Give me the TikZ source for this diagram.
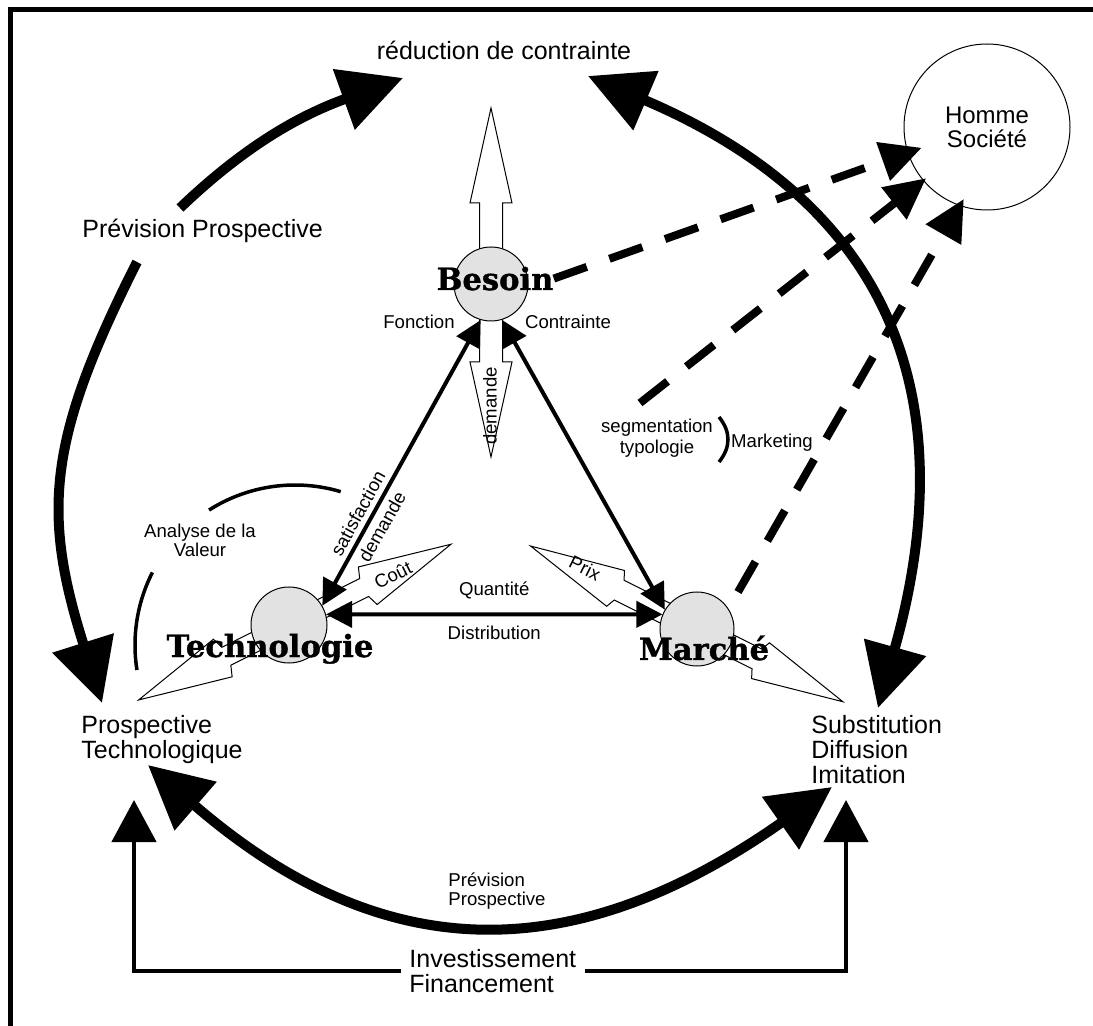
\documentclass[tikz,border=0pt]{standalone}
\usepackage{fontspec}
\setmainfont{Liberation Sans}
\newfontfamily\slabfont{DejaVu Serif}[BoldFeatures={FakeBold=1.2}]
\usetikzlibrary{arrows.meta}
\definecolor{polegray}{HTML}{E2E2E2}
\tikzset{
  flow/.style={line width=5pt, >={Triangle[length=31.5pt,width=31pt]}},
  link/.style={line width=2pt, >={Triangle[length=13pt,width=13pt]}, <->},
  impact/.style={line width=4pt, dash pattern=on 17.5pt off 12pt, >={Triangle[length=20.5pt,width=19.5pt]}, ->},
  fund/.style={line width=2.25pt, >={Triangle[length=21pt,width=22pt]}, ->},
  pole/.style={circle, draw, line width=0.5pt, fill=polegray, inner sep=0pt, minimum size=#1},
  hollow/.style={draw, fill=white, line width=0.5pt},
  lbl/.style={font=\fontsize{9.3}{9.5}\selectfont, inner sep=0pt},
  txt/.style={font=\fontsize{12.5}{12.5}\selectfont, inner sep=0pt},
  bigword/.style={font=\fontsize{15.3}{15.3}\slabfont\bfseries, inner sep=0pt}
}
\begin{document}
\begin{tikzpicture}[x=0.5pt, y=0.5pt]
  \useasboundingbox (0,0) rectangle (1093,-1026);
  % cadre
  \draw[line width=2.25pt] (1093,-9.5) -- (10.5,-9.5) -- (10.5,-1026);

  % grands cercles de prevision
  \coordinate (pp1) at (180,-208);
  \coordinate (rc1) at (403,-78);
  \coordinate (pp2) at (137,-262);
  \coordinate (pt1) at (102,-703);
  \coordinate (rc2) at (588,-76);
  \coordinate (sd1) at (878,-708);
  \coordinate (pt2) at (148,-765);
  \coordinate (sd2) at (832,-787);
  \draw[flow, ->] (pp1) .. controls (252,-139) and (309,-112) .. (rc1);
  \draw[flow, ->] (pp2) .. controls (47,-440) and (42,-513) .. (pt1);
  \draw[flow, <->] (rc2) .. controls (910,-213) and (959,-420) .. (sd1);
  \draw[flow, <->] (pt2) .. controls (385,-970) and (576,-967) .. (sd2);

  % analyse de la valeur
  \coordinate (av) at (295,-645);
  \draw[line width=1.75pt] ([shift={(122.5:160)}]av) arc[start angle=122.5, end angle=73.4, radius=160];
  \draw[line width=1.75pt] ([shift={(153:160)}]av) arc[start angle=153, end angle=189, radius=160];
  \node[lbl, align=center, anchor=north] (analyse) at (200,-524) {Analyse de la\\Valeur};

  % poles
  \coordinate (cbes) at (491,-284);
  \coordinate (ctech) at (289,-625);
  \coordinate (cmar) at (697,-629);
  \begin{scope}[shift={(cbes)}]
    \draw[hollow] (-11.5,0) -- (-11.5,81) -- (-21,81) -- (0,176) -- (21,81) -- (11.5,81) -- (11.5,0) -- cycle;
    \draw[hollow] (-11.5,0) -- (-11.5,-78) -- (-21,-78) -- (0,-173) -- (21,-78) -- (11.5,-78) -- (11.5,0) -- cycle;
  \end{scope}
  \begin{scope}[shift={(ctech)}, rotate=26.5]
    \draw[hollow] (181,0) -- (88,21) -- (84,10) -- (-70,10) -- (-74,21) -- (-168,0) -- (-74,-21) -- (-70,-10) -- (84,-10) -- (88,-21) -- cycle;
  \end{scope}
  \begin{scope}[shift={(cmar)}, rotate=-26.5]
    \draw[hollow] (163,0) -- (71,20) -- (67,11) -- (-87,11) -- (-91,20) -- (-186,0) -- (-91,-20) -- (-87,-11) -- (67,-11) -- (71,-20) -- cycle;
  \end{scope}
  \node[pole=37pt] (besoin) at (cbes) {};
  \node[pole=38pt] (tech) at (ctech) {};
  \node[pole=37pt] (marche) at (cmar) {};
  \node[lbl, rotate=26.5] (cout) at (393,-575) {Coût};
  \node[lbl, rotate=-26.5] (prix) at (585,-568) {Prix};
  \node[lbl, rotate=90] (dem) at (490,-406) {demande};

  \draw[link] (tech.30) -- (besoin.254)
    node[lbl, pos=0.3, sloped, above=2.5pt] {satisfaction}
    node[lbl, pos=0.3, sloped, below=2.5pt] {demande};
  \draw[link] (marche.149) -- (besoin.287);
  \draw[link] (tech.16) -- (marche.157)
    node[lbl, midway, above=6.5pt] {Quantité}
    node[lbl, midway, below=5pt] {Distribution};
  \node[lbl, anchor=base] (fonction) at (419,-329) {Fonction};
  \node[lbl, anchor=base] (contrainte) at (568,-329) {Contrainte};

  \node[bigword, anchor=base] (besointxt) at (495,-290) {Besoin};
  \node[bigword, anchor=base] (techtxt) at (270,-657) {Technologie};
  \node[bigword, anchor=base] (marchetxt) at (704,-660) {Marché};

  % homme societe
  \node[circle, draw, line width=0.5pt, minimum size=83pt, inner sep=0pt, align=center, font=\fontsize{12}{12}\selectfont] (hs) at (987,-127) {Homme\\Société};
  \coordinate (seg) at (640,-403);
  \coordinate (mk) at (738,-592);
  \draw[impact, shorten >=-7.5pt] (besointxt.east) -- (hs.198);
  \draw[impact, shorten >=-2pt] (seg) -- (hs.220);
  \draw[impact, shorten >=-4pt] (mk) -- (hs.251);

  % marketing
  \node[lbl, align=center, anchor=north] (segm) at (657,-419) {segmentation\\[1pt]typologie};
  \draw[line width=1.75pt] (719,-417) .. controls (731,-432) and (731,-447) .. (719,-462);
  \node[lbl, anchor=base] (mkting) at (772,-448) {Marketing};

  % textes du pourtour
  \node[txt, anchor=base] (reduc) at (504,-60) {réduction de contrainte};
  \node[txt, anchor=base west] (prevtop) at (82,-238) {Prévision Prospective};
  \node[txt, align=left, anchor=north west] (protech) at (81,-715) {Prospective\\Technologique};
  \node[txt, align=left, anchor=north west] (subst) at (811,-715) {Substitution\\Diffusion\\Imitation};
  \node[lbl, align=left, anchor=north west] (prevbot) at (448,-872) {Prévision\\Prospective};
  \node[txt, align=left, anchor=north west, inner sep=4pt] (invest) at (401,-941) {Investissement\\Financement};

  % investissement
  \coordinate (fundL) at (134,-800);
  \coordinate (fundR) at (846,-800);
  \draw[fund] (invest.west) -| (fundL);
  \draw[fund] (invest.east) -| (fundR);
\end{tikzpicture}
\end{document}
